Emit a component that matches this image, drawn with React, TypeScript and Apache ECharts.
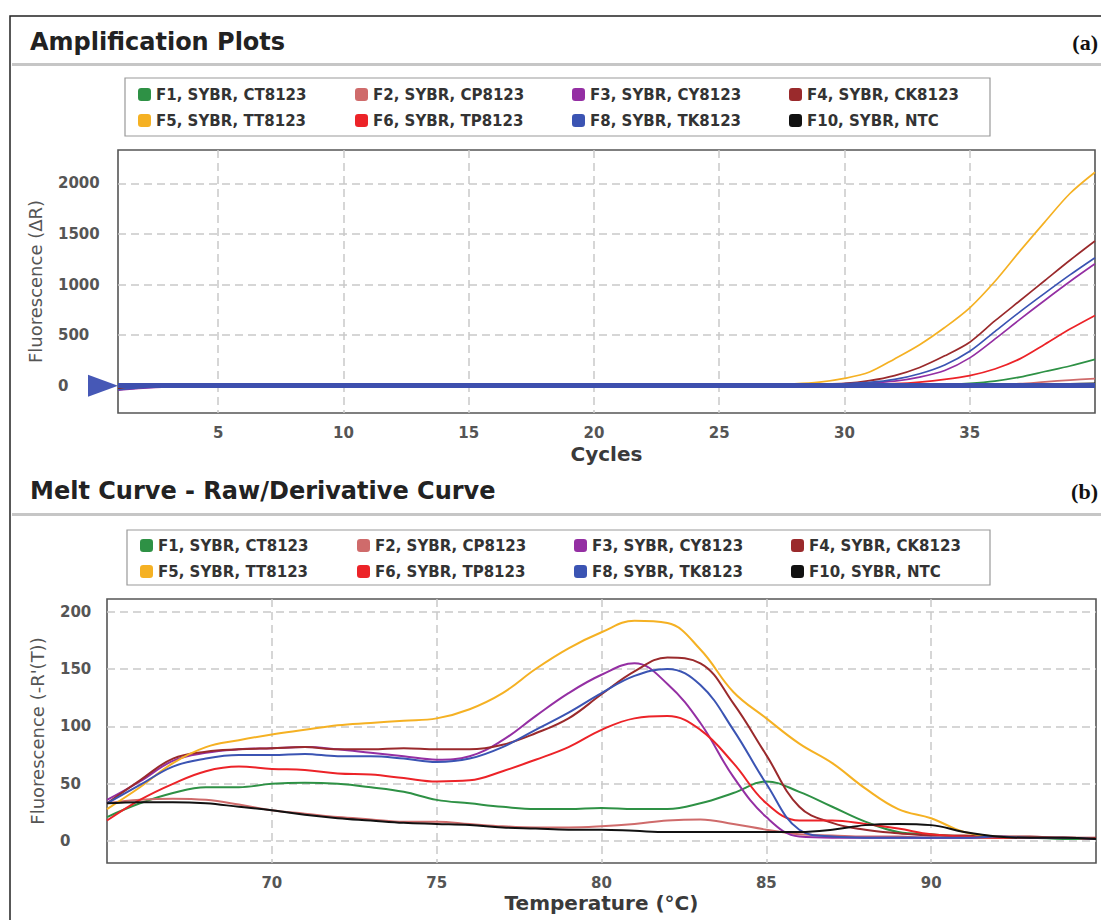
import React, { useEffect, useRef } from "react";
import * as echarts from "echarts";

const seriesNames = [
  "F1, SYBR, CT8123",
  "F2, SYBR, CP8123",
  "F3, SYBR, CY8123",
  "F4, SYBR, CK8123",
  "F5, SYBR, TT8123",
  "F6, SYBR, TP8123",
  "F8, SYBR, TK8123",
  "F10, SYBR, NTC",
];
const seriesColors = ["#2e9145", "#cf6b6b", "#942fa3", "#9a2a2c", "#f5b123", "#ec2328", "#3b54b3", "#111111"];

// Amplification plot (a): cycles 1..40
const cycles = [1, 2, 3, 4, 5, 6, 7, 8, 9, 10, 11, 12, 13, 14, 15, 16, 17, 18, 19, 20, 21, 22, 23, 24, 25, 26, 27, 28, 29, 30, 31, 32, 33, 34, 35, 36, 37, 38, 39, 40];
const ampF1 = [-25, -12, -6, -3, -2, -1, 0, 1, 2, 3, 2, 1, 0, 1, 2, 1, 0, 0, 1, 1, 2, 2, 2, 3, 3, 3, 4, 4, 5, 5, 6, 7, 8, 10, 22, 45, 85, 140, 195, 260];
const ampF2 = [-20, -10, -5, -3, -2, -1, 0, 1, 1, 2, 2, 1, 0, 1, 1, 1, 0, 0, 1, 1, 1, 2, 2, 2, 3, 3, 3, 4, 4, 5, 5, 6, 7, 8, 10, 14, 20, 38, 55, 70];
const ampF3 = [-45, -25, -12, -6, -3, -1, 0, 2, 3, 5, 4, 2, 1, 2, 3, 2, 1, 1, 2, 2, 3, 3, 3, 4, 4, 5, 6, 8, 12, 18, 28, 45, 85, 150, 275, 460, 655, 845, 1030, 1205];
const ampF4 = [-30, -15, -8, -4, -2, 0, 1, 2, 3, 4, 6, 4, 2, 3, 3, 2, 1, 1, 2, 2, 3, 3, 4, 4, 5, 6, 8, 11, 15, 22, 50, 100, 180, 295, 430, 640, 840, 1040, 1240, 1430];
const ampF5 = [-30, -15, -8, -4, -2, 0, 2, 3, 5, 8, 6, 4, 3, 5, 6, 4, 3, 2, 3, 4, 5, 6, 6, 7, 8, 9, 12, 18, 35, 72, 135, 265, 405, 575, 770, 1030, 1330, 1620, 1900, 2110];
const ampF6 = [-25, -12, -6, -3, -2, 0, 1, 2, 2, 3, 3, 2, 1, 2, 2, 1, 1, 1, 2, 2, 2, 3, 3, 3, 4, 4, 5, 6, 7, 9, 12, 20, 36, 62, 100, 165, 265, 410, 560, 695];
const ampF8 = [-40, -20, -10, -5, -2, 0, 1, 2, 3, 5, 4, 2, 1, 2, 3, 2, 1, 1, 2, 2, 3, 3, 3, 4, 4, 5, 7, 9, 13, 20, 32, 62, 118, 205, 340, 535, 730, 915, 1095, 1265];
const ampF10 = [-20, -10, -5, -3, -2, -1, 0, 1, 1, 2, 1, 1, 0, 1, 1, 1, 0, 0, 1, 1, 1, 1, 2, 2, 2, 2, 3, 3, 3, 4, 4, 5, 5, 6, 7, 9, 11, 14, 18, 22];
const threshold = 0;

// Melt curve (b): temperature 65..95
const temps = [65, 66, 67, 68, 69, 70, 71, 72, 73, 74, 75, 76, 77, 78, 79, 80, 81, 82, 83, 84, 85, 86, 87, 88, 89, 90, 91, 92, 93, 94, 95];
const meltF1 = [21, 33, 42, 47, 47, 50, 51, 50, 47, 43, 36, 33, 30, 28, 28, 29, 28, 28, 33, 42, 52, 43, 30, 17, 8, 6, 4, 3, 3, 2, 2];
const meltF2 = [33, 36, 37, 36, 32, 27, 24, 21, 19, 17, 17, 15, 13, 12, 12, 13, 15, 18, 19, 15, 10, 6, 5, 4, 4, 3, 3, 3, 3, 3, 2];
const meltF3 = [36, 52, 70, 77, 80, 81, 82, 80, 77, 74, 71, 74, 88, 109, 129, 145, 155, 137, 103, 56, 21, 4, 3, 3, 3, 3, 3, 4, 3, 3, 2];
const meltF4 = [33, 53, 72, 78, 80, 81, 82, 80, 80, 81, 80, 80, 84, 94, 107, 128, 148, 160, 155, 120, 75, 30, 16, 10, 7, 5, 5, 4, 4, 3, 3];
const meltF5 = [28, 47, 68, 82, 88, 93, 97, 101, 103, 105, 107, 115, 129, 150, 168, 182, 192, 190, 167, 130, 107, 85, 68, 46, 28, 20, 8, 4, 3, 3, 2];
const meltF6 = [18, 36, 50, 61, 65, 63, 62, 59, 58, 55, 52, 53, 61, 71, 82, 97, 107, 109, 97, 68, 33, 18, 18, 15, 11, 6, 4, 3, 3, 3, 2];
const meltF8 = [33, 49, 65, 72, 75, 75, 76, 74, 74, 72, 69, 72, 82, 97, 112, 129, 144, 150, 136, 97, 50, 10, 4, 3, 3, 3, 3, 4, 3, 3, 2];
const meltF10 = [33, 34, 34, 33, 30, 27, 23, 20, 18, 16, 15, 14, 12, 11, 10, 10, 9, 8, 8, 8, 8, 8, 10, 14, 15, 14, 8, 4, 3, 3, 2];

const ampData = [ampF1, ampF2, ampF3, ampF4, ampF5, ampF6, ampF8, ampF10];
const meltData = [meltF1, meltF2, meltF3, meltF4, meltF5, meltF6, meltF8, meltF10];

const FONT = "DejaVu Sans";
const legendIcon =
  "path://M3,0 H9 A3,3 0 0 1 12,3 V9 A3,3 0 0 1 9,12 H3 A3,3 0 0 1 0,9 V3 A3,3 0 0 1 3,0 Z";

function makeLegend(names: string[], left: number, top: number) {
  return {
    data: names,
    left,
    top,
    orient: "horizontal",
    icon: legendIcon,
    itemWidth: 13,
    itemHeight: 13,
    itemGap: 24,
    padding: 0,
    selectedMode: false,
    textStyle: {
      fontFamily: FONT,
      fontSize: 15,
      fontWeight: "bold",
      color: "#333",
      width: 175,
      lineHeight: 14,
    },
  };
}

const splitLine = {
  show: true,
  showMinLine: false,
  showMaxLine: false,
  lineStyle: { color: "#c9c9c9", type: [8, 5], width: 1.5 },
};
const tickLabel = {
  fontFamily: FONT,
  fontSize: 15,
  fontWeight: "bold",
  color: "#555",
  showMinLabel: false,
  showMaxLabel: false,
  formatter: (v: number) => String(Math.round(v) === 0 ? 0 : Math.round(v)),
};

export default function App() {
  const ref = useRef<HTMLDivElement>(null);
  useEffect(() => {
    if (!ref.current) return;
    const chart = echarts.init(ref.current, undefined, { renderer: "svg" });

    const ampSeries = seriesNames.map((name, i) => {
      const s: any = {
        name,
        type: "line",
        xAxisIndex: 0,
        yAxisIndex: 0,
        data: cycles.map((c, k) => [c, ampData[i][k]]),
        smooth: 0.3,
        showSymbol: false,
        itemStyle: { color: seriesColors[i] },
        lineStyle: { color: seriesColors[i], width: 1.7 },
        z: 2,
      };
      if (name.startsWith("F8")) {
        s.markLine = {
          silent: true,
          symbol: "none",
          label: { show: false },
          lineStyle: { color: "#3d4fae", width: 5, type: "solid" },
          data: [{ yAxis: threshold }],
        };
        s.markPoint = {
          silent: true,
          symbol: "triangle",
          symbolSize: [22, 30],
          symbolRotate: -90,
          symbolOffset: [-15, 0],
          label: { show: false },
          itemStyle: { color: "#4658b6" },
          data: [{ coord: [cycles[0], threshold] }],
        };
        s.z = 3;
      }
      return s;
    });

    const meltSeries = seriesNames.map((name, i) => ({
      name,
      type: "line",
      xAxisIndex: 1,
      yAxisIndex: 1,
      data: temps.map((t, k) => [t, meltData[i][k]]),
      smooth: 0.4,
      showSymbol: false,
      itemStyle: { color: seriesColors[i] },
      lineStyle: { color: seriesColors[i], width: 2 },
    }));

    const option: any = {
      animation: false,
      backgroundColor: "#ffffff",
      graphic: [
        {
          type: "rect",
          shape: { x: 10, y: 16, width: 1200, height: 1000 },
          style: { fill: "none", stroke: "#222", lineWidth: 1.5 },
        },
        {
          type: "text",
          x: 30,
          y: 42,
          style: {
            text: "Amplification Plots",
            font: `bold 24px "${FONT}"`,
            fill: "#222",
            textVerticalAlign: "middle",
          },
        },
        {
          type: "text",
          x: 1098,
          y: 42,
          style: {
            text: "(a)",
            font: 'bold 22px "Liberation Serif"',
            fill: "#111",
            textAlign: "right",
            textVerticalAlign: "middle",
          },
        },
        {
          type: "rect",
          shape: { x: 12, y: 63, width: 1100, height: 3 },
          style: { fill: "#c6c6c6" },
        },
        {
          type: "rect",
          shape: { x: 125, y: 78, width: 865, height: 58 },
          style: { fill: "none", stroke: "#999", lineWidth: 1.2 },
        },
        {
          type: "text",
          x: 30,
          y: 491,
          style: {
            text: "Melt Curve - Raw/Derivative Curve",
            font: `bold 24px "${FONT}"`,
            fill: "#222",
            textVerticalAlign: "middle",
          },
        },
        {
          type: "text",
          x: 1098,
          y: 491,
          style: {
            text: "(b)",
            font: 'bold 22px "Liberation Serif"',
            fill: "#111",
            textAlign: "right",
            textVerticalAlign: "middle",
          },
        },
        {
          type: "rect",
          shape: { x: 12, y: 513, width: 1100, height: 3 },
          style: { fill: "#c6c6c6" },
        },
        {
          type: "rect",
          shape: { x: 127, y: 530, width: 863, height: 55 },
          style: { fill: "none", stroke: "#999", lineWidth: 1.2 },
        },
      ],
      legend: [
        makeLegend(seriesNames.slice(0, 4), 138, 87),
        makeLegend(seriesNames.slice(4), 138, 113),
        makeLegend(seriesNames.slice(0, 4), 140, 538),
        makeLegend(seriesNames.slice(4), 140, 564),
      ],
      grid: [
        {
          left: 118,
          right: 6,
          top: 150,
          bottom: 507,
          show: true,
          borderColor: "#555",
          borderWidth: 1.6,
          backgroundColor: "#fff",
        },
        {
          left: 107,
          right: 5,
          top: 599,
          bottom: 57,
          show: true,
          borderColor: "#555",
          borderWidth: 1.6,
          backgroundColor: "#fff",
        },
      ],
      xAxis: [
        {
          type: "value",
          gridIndex: 0,
          min: 1,
          max: 40,
          minInterval: 5,
          maxInterval: 5,
          axisLine: { show: false },
          axisTick: { show: false },
          axisLabel: { ...tickLabel, margin: 12 },
          splitLine,
          name: "Cycles",
          nameLocation: "middle",
          nameGap: 31,
          nameTextStyle: { fontFamily: FONT, fontSize: 20, fontWeight: "bold", color: "#3a3a3a" },
        },
        {
          type: "value",
          gridIndex: 1,
          min: 65,
          max: 95,
          minInterval: 5,
          maxInterval: 5,
          axisLine: { show: false },
          axisTick: { show: false },
          axisLabel: { ...tickLabel, margin: 12 },
          splitLine,
          name: "Temperature (°C)",
          nameLocation: "middle",
          nameGap: 30,
          nameTextStyle: { fontFamily: FONT, fontSize: 20, fontWeight: "bold", color: "#3a3a3a" },
        },
      ],
      yAxis: [
        {
          type: "value",
          gridIndex: 0,
          min: -270,
          max: 2330,
          minInterval: 500,
          maxInterval: 500,
          axisLine: { show: false },
          axisTick: { show: false },
          axisLabel: { ...tickLabel, margin: 60, align: "left" },
          splitLine,
          name: "Fluorescence (ΔR)",
          nameLocation: "middle",
          nameGap: 74,
          nameTextStyle: { fontFamily: FONT, fontSize: 18, color: "#555" },
        },
        {
          type: "value",
          gridIndex: 1,
          min: -19,
          max: 211,
          minInterval: 50,
          maxInterval: 50,
          axisLine: { show: false },
          axisTick: { show: false },
          axisLabel: { ...tickLabel, margin: 47, align: "left" },
          splitLine,
          name: "Fluorescence (-R'(T))",
          nameLocation: "middle",
          nameGap: 61,
          nameTextStyle: { fontFamily: FONT, fontSize: 18, color: "#555" },
        },
      ],
      series: [...ampSeries, ...meltSeries],
    };

    chart.setOption(option);
    return () => chart.dispose();
  }, []);

  return (
    <div
      ref={ref}
      style={{ position: "absolute", left: 0, top: 0, width: 1101, height: 920, background: "#fff" }}
    />
  );
}
